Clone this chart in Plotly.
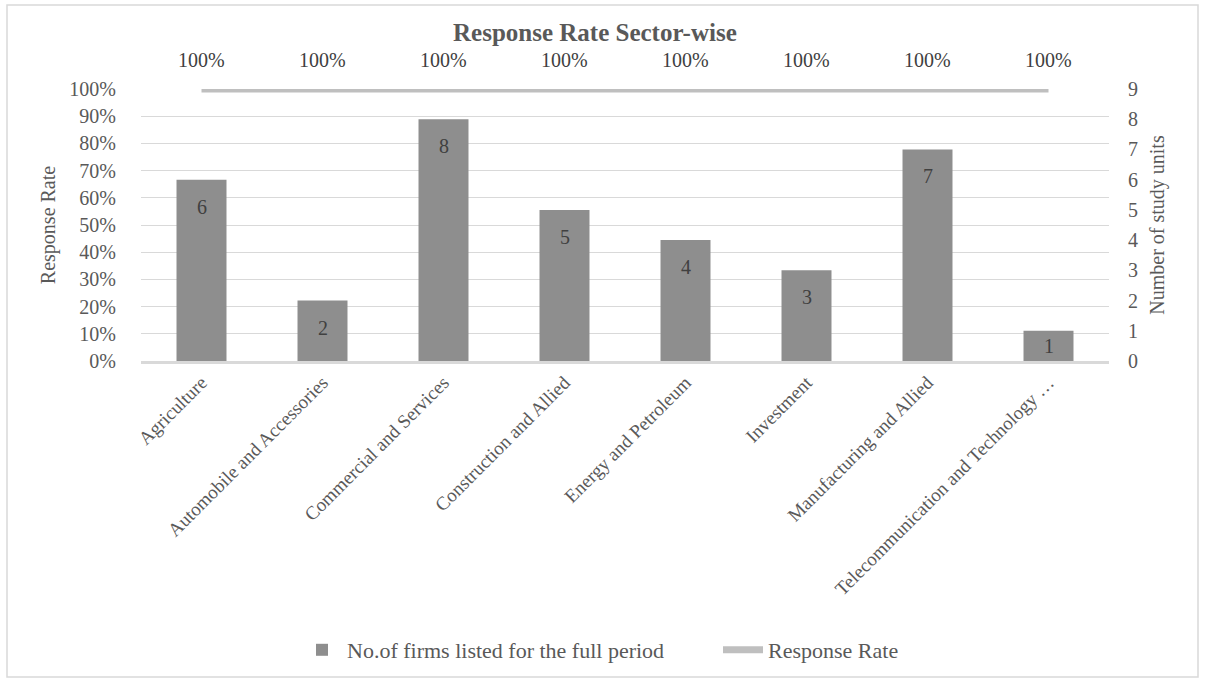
import plotly.graph_objects as go

categories = ["Agriculture", "Automobile and Accessories", "Commercial and Services",
              "Construction and Allied", "Energy and Petroleum", "Investment",
              "Manufacturing and Allied", "Telecommunication and Technology …"]
firms = [6, 2, 8, 5, 4, 3, 7, 1]
response_rate = [1.0, 1.0, 1.0, 1.0, 1.0, 1.0, 1.0, 1.0]

font_family = "Liberation Serif"
text_col = "#595959"
FS = 20

# plot area geometry (pixels)
L, R, T, B = 141, 97, 89, 322
H = 683 - T - B
W = 1206 - L - R

def py(p):  # pixel row -> paper y
    return (683 - B - p) / H

def px(p):  # pixel column -> paper x
    return (p - L) / W

fig = go.Figure()
fig.add_trace(go.Bar(
    x=categories, y=firms, name="No.of firms listed for the full period",
    yaxis="y2", marker=dict(color="#8e8e8e", line=dict(width=0)),
    width=0.413,
))
fig.add_trace(go.Scatter(
    x=categories, y=response_rate, name="Response Rate", yaxis="y",
    mode="lines", line=dict(color="#bfbfbf", width=7),
))

annotations = []
for c, r in zip(categories, response_rate):
    annotations.append(dict(x=c, y=r, xref="x", yref="y", text=f"{r:.0%}",
                            showarrow=False, yshift=29,
                            font=dict(size=FS, color="#404040", family=font_family)))
for c, v in zip(categories, firms):
    bar_px = v * H / 9
    annotations.append(dict(x=c, y=v, xref="x", yref="y2", text=str(v),
                            showarrow=False, yshift=-min(27, bar_px / 2),
                            font=dict(size=FS, color="#404040", family=font_family)))
annotations.append(dict(x=px(595), y=py(32), xref="paper", yref="paper",
                        xanchor="center", yanchor="middle", showarrow=False,
                        text="<b>Response Rate Sector-wise</b>",
                        font=dict(size=25, color="#595959", family=font_family)))

fig.update_layout(
    width=1206, height=683,
    margin=dict(l=L, r=R, t=T, b=B, autoexpand=False),
    paper_bgcolor="white", plot_bgcolor="white",
    font=dict(family=font_family, size=FS, color=text_col),
    xaxis=dict(tickangle=-45, showgrid=False, showline=True, linecolor="#d9d9d9",
               linewidth=3, tickfont=dict(size=19, color=text_col), ticks=""),
    yaxis=dict(range=[0, 1], dtick=0.1, tickformat=".0%", showgrid=True,
               gridcolor="#d9d9d9", gridwidth=1, zeroline=False,
               title=dict(text="Response Rate", font=dict(size=FS, color=text_col), standoff=8),
               tickfont=dict(size=FS, color=text_col), ticks="outside", ticklen=20,
               tickcolor="white"),
    yaxis2=dict(range=[0, 9], dtick=1, overlaying="y", side="right", showgrid=False,
                zeroline=False,
                title=dict(text="Number of study units", font=dict(size=FS, color=text_col), standoff=12),
                tickfont=dict(size=FS, color=text_col), ticks="outside", ticklen=14,
                tickcolor="white"),
    legend=dict(orientation="h", x=px(718), xanchor="center", y=py(650), yanchor="middle",
                font=dict(size=22, color=text_col), traceorder="normal", itemwidth=40,
                entrywidth=366, entrywidthmode="pixels"),
    annotations=annotations,
    shapes=[dict(type="rect", xref="paper", yref="paper",
                 x0=px(7), x1=px(1198), y0=py(677), y1=py(5),
                 line=dict(color="#d9d9d9", width=1.5), fillcolor="rgba(0,0,0,0)",
                 layer="below")],
    showlegend=True,
)

fig.write_html("out.html")
